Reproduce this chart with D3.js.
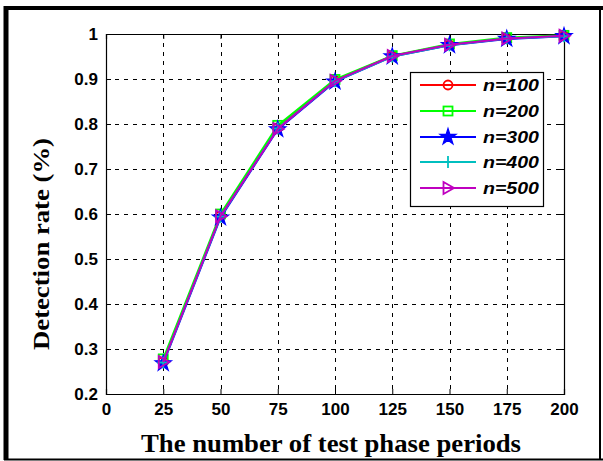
<!DOCTYPE html>
<html><head><meta charset="utf-8">
<script src="https://cdn.jsdelivr.net/npm/d3@7"></script>
<style>body{margin:0;background:#fff}svg{display:block}</style>
</head><body>
<script>
const periods = [25, 50, 75, 100, 125, 150, 175, 200];
const seriesNames = ["n=100", "n=200", "n=300", "n=400", "n=500"];
const seriesColors = ["#ff0000", "#00ff00", "#0000ff", "#00bfbf", "#bf00bf"];
const n100 = [0.272, 0.596, 0.792, 0.897, 0.951, 0.976, 0.990, 0.996];
const n200 = [0.278, 0.600, 0.797, 0.899, 0.952, 0.978, 0.992, 0.997];
const n300 = [0.268, 0.592, 0.788, 0.894, 0.950, 0.975, 0.989, 0.995];
const n400 = [0.270, 0.594, 0.790, 0.895, 0.950, 0.975, 0.990, 0.995];
const n500 = [0.271, 0.595, 0.789, 0.896, 0.951, 0.976, 0.990, 0.996];
const seriesValues = [n100, n200, n300, n400, n500];
const xTicks = [0, 25, 50, 75, 100, 125, 150, 175, 200];
const yTicks = [0.2, 0.3, 0.4, 0.5, 0.6, 0.7, 0.8, 0.9, 1];
const xTitle = "The number of test phase periods";
const yTitle = "Detection rate (%)";

const W = 603, H = 461;
const m = {l: 106, r: 564, t: 34, b: 394};
const svg = d3.select("body").append("svg").attr("width", W).attr("height", H);

// outer frame
svg.append("rect").attr("x", 0).attr("y", 0).attr("width", W).attr("height", H).attr("fill", "#fff");
svg.append("line").attr("x1", 6).attr("x2", 6).attr("y1", 6).attr("y2", 460).attr("stroke", "#000").attr("stroke-width", 5);
svg.append("line").attr("x1", 4).attr("x2", 603).attr("y1", 8).attr("y2", 8).attr("stroke", "#000").attr("stroke-width", 4);
svg.append("line").attr("x1", 4).attr("x2", 603).attr("y1", 459.5).attr("y2", 459.5).attr("stroke", "#000").attr("stroke-width", 2);
svg.append("line").attr("x1", 600).attr("x2", 600).attr("y1", 6).attr("y2", 460).attr("stroke", "#000").attr("stroke-width", 2);

const x = d3.scaleLinear().domain([0, 200]).range([m.l, m.r]);
const y = d3.scaleLinear().domain([0.2, 1]).range([m.b, m.t]);

// grid
const g = svg.append("g");
xTicks.slice(1, -1).forEach(t => {
  g.append("line").attr("x1", Math.round(x(t)) + 0.5).attr("x2", Math.round(x(t)) + 0.5)
    .attr("y1", m.t).attr("y2", m.b).attr("stroke", "#000").attr("stroke-width", 1).attr("stroke-dasharray", "4,5");
});
yTicks.slice(1, -1).forEach(t => {
  g.append("line").attr("y1", Math.round(y(t)) + 0.5).attr("y2", Math.round(y(t)) + 0.5)
    .attr("x1", m.l).attr("x2", m.r).attr("stroke", "#000").attr("stroke-width", 1).attr("stroke-dasharray", "4,5");
});

// axes (MATLAB style, inward ticks)
const ax = d3.axisBottom(x).tickValues(xTicks).tickSize(-5).tickPadding(9).tickFormat(d3.format("d"));
const axT = d3.axisTop(x).tickValues(xTicks).tickSize(-5).tickFormat("");
const ay = d3.axisLeft(y).tickValues(yTicks).tickSize(-5).tickPadding(8).tickFormat(d => d === 1 ? "1" : d3.format(".1f")(d));
const ayR = d3.axisRight(y).tickValues(yTicks).tickSize(-5).tickFormat("");
function styleAxis(sel) {
  sel.select(".domain").attr("stroke", "#000").attr("stroke-width", 1.2);
  sel.selectAll(".tick line").attr("stroke", "#000");
  sel.selectAll("text").attr("fill", "#000").style("font-family", "'Liberation Sans', Arial, sans-serif")
    .style("font-weight", "bold").style("font-size", "17px");
}
svg.append("g").attr("transform", `translate(0,${m.b})`).call(ax).call(styleAxis);
svg.append("g").attr("transform", `translate(0,${m.t})`).call(axT).call(styleAxis);
svg.append("g").attr("transform", `translate(${m.l},0)`).call(ay).call(styleAxis);
svg.append("g").attr("transform", `translate(${m.r},0)`).call(ayR).call(styleAxis);

// markers
const star = d3.symbol().type(d3.symbolStar).size(80);
const tri = "M-4.5,-6 L6,0 L-4.5,6 Z";
function drawMarker(sel, i, color) {
  if (i === 0) sel.append("circle").attr("r", 4.5).attr("fill", "none").attr("stroke", color).attr("stroke-width", 1.8);
  else if (i === 1) sel.append("rect").attr("x", -4.5).attr("y", -4.5).attr("width", 9).attr("height", 9).attr("fill", "none").attr("stroke", color).attr("stroke-width", 1.8);
  else if (i === 2) sel.append("path").attr("d", star()).attr("fill", color).attr("stroke", color).attr("stroke-width", 1.2);
  else if (i === 3) sel.append("path").attr("d", "M-6,0H6M0,-6V6").attr("stroke", color).attr("stroke-width", 1.8);
  else sel.append("path").attr("d", tri).attr("fill", "none").attr("stroke", color).attr("stroke-width", 1.8);
}

const line = d3.line().x((d, j) => x(periods[j])).y(d => y(d));
seriesValues.forEach((vals, i) => {
  const c = seriesColors[i];
  svg.append("path").datum(vals).attr("d", line).attr("fill", "none").attr("stroke", c).attr("stroke-width", 2);
  vals.forEach((v, j) => {
    const mk = svg.append("g").attr("transform", `translate(${x(periods[j])},${y(v)})`);
    drawMarker(mk, i, c);
  });
});

// legend
const lg = svg.append("g");
lg.append("rect").attr("x", 410.5).attr("y", 72.5).attr("width", 133).attr("height", 134)
  .attr("fill", "#fff").attr("stroke", "#000").attr("stroke-width", 1.2);
const rowY = [85, 111, 137, 162, 188];
seriesNames.forEach((name, i) => {
  const c = seriesColors[i];
  lg.append("line").attr("x1", 420).attr("x2", 476).attr("y1", rowY[i]).attr("y2", rowY[i]).attr("stroke", c).attr("stroke-width", 2);
  drawMarker(lg.append("g").attr("transform", `translate(448,${rowY[i]})`), i, c);
  lg.append("text").attr("x", 483).attr("y", rowY[i] + 5.5).text(name)
    .attr("textLength", 56).attr("lengthAdjust", "spacingAndGlyphs")
    .style("font-family", "'Liberation Sans', Arial, sans-serif").style("font-weight", "bold")
    .style("font-style", "italic").style("font-size", "16px").attr("fill", "#000");
});

// titles
svg.append("text").attr("x", 331).attr("y", 452).attr("text-anchor", "middle").text(xTitle)
  .attr("textLength", 380).attr("lengthAdjust", "spacingAndGlyphs")
  .style("font-family", "'Liberation Serif', 'Times New Roman', serif").style("font-weight", "bold").style("font-size", "25px");
svg.append("text").attr("transform", `translate(49,${(m.t + m.b) / 2 + 30}) rotate(-90)`).attr("text-anchor", "middle").text(yTitle)
  .attr("textLength", 212).attr("lengthAdjust", "spacingAndGlyphs")
  .style("font-family", "'Liberation Serif', 'Times New Roman', serif").style("font-weight", "bold").style("font-size", "24px");
</script>
</body></html>
